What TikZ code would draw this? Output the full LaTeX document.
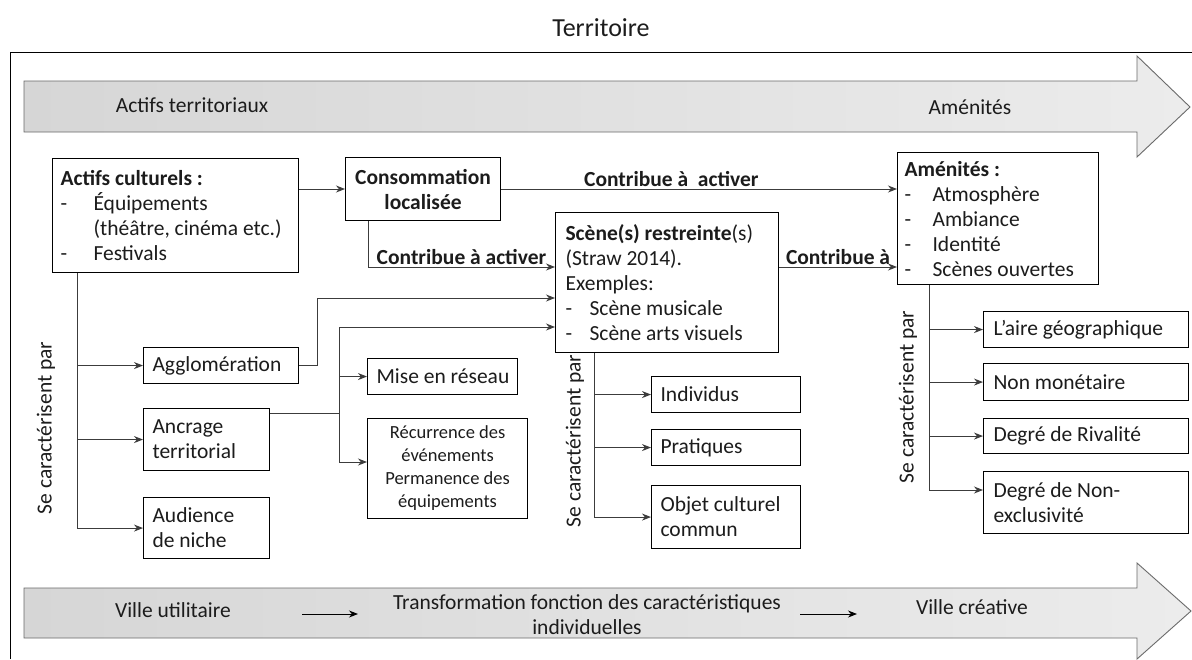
\documentclass[tikz,border=0pt]{standalone}
\usepackage{fontspec}
\setmainfont{Carlito}
\usetikzlibrary{arrows.meta}
\definecolor{txt}{HTML}{1C1C1C}
\definecolor{ln}{HTML}{3C3C3C}
\definecolor{arrL}{HTML}{D6D6D6}
\definecolor{arrR}{HTML}{ECECEC}
\definecolor{arrD}{HTML}{6A6A6A}
\newcommand\dsh[1]{\makebox[#1][l]{-}}
\begin{document}
\begin{tikzpicture}[x=1pt,y=-1pt,
  every node/.style={font=\fontsize{21.5}{25}\selectfont, text=txt},
  box/.style={draw=black, line width=1.1pt, anchor=north west, inner ysep=0pt, inner xsep=9pt, align=flush left},
  cbox/.style={box, align=flush center},
  lbl/.style={font=\fontsize{21.5}{25}\selectfont\bfseries, inner sep=2pt},
  ln/.style={draw=ln, line width=1pt},
  conn/.style={ln, -{Stealth[length=9pt,width=7pt]}},
  sarr/.style={draw=black, line width=1pt, -{Stealth[length=9pt,width=7pt]}},
  bigarrow/.style={draw=arrD, line width=0.9pt, left color=arrL, right color=arrR},
  rot/.style={rotate=90, inner sep=0pt}
]
\useasboundingbox (0,0) rectangle (1192,659);
\fill[white] (0,0) rectangle (1192,659);

% title and frame
\node[font=\fontsize{26}{30}\selectfont] (title) at (601,28) {Territoire};
\draw[line width=1pt] (10,659) -- (10,52) -- (1192,52);

% big arrows
\path[bigarrow] (24,81) -- (1137,81) -- (1137,56) -- (1190,107) -- (1137,157) -- (1137,132) -- (24,132) -- cycle;
\node (at) at (192,105) {Actifs territoriaux};
\node (am) at (970,107) {Aménités};

\path[bigarrow] (24,588) -- (1137,588) -- (1137,563) -- (1191,611) -- (1137,659) -- (1137,638) -- (24,638) -- cycle;
\node (vu) at (173,610) {Ville utilitaire};
\node[align=center] (tf) at (587,615) {Transformation fonction des caractéristiques\\individuelles};
\node (vc) at (972,607) {Ville créative};
\coordinate (s1a) at (302,614); \coordinate (s1b) at (358,614);
\coordinate (s2a) at (800,614); \coordinate (s2b) at (857,614);
\draw[sarr] (s1a) -- (s1b);
\draw[sarr] (s2a) -- (s2b);

% boxes
\node[box, minimum width=246pt, minimum height=114pt, text width=230pt, inner xsep=8pt] (act) at (52,158)
  {\textbf{Actifs culturels :}\\ \dsh{33pt}Équipements\\ \hspace*{33pt}(théâtre, cinéma etc.)\\ \dsh{33pt}Festivals};
\node[cbox, minimum width=155pt, minimum height=63pt, text width=145pt, inner xsep=5pt, font=\fontsize{21.5}{25}\selectfont\bfseries] (cons) at (345,157)
  {Consommation\\localisée};
\node[box, minimum width=223pt, minimum height=140pt, text width=203pt, inner xsep=10pt] (scene) at (555,212)
  {\textbf{Scène(s) restreinte}(s)\\ (Straw 2014).\\ Exemples:\\ \dsh{24pt}Scène musicale\\ \dsh{24pt}Scène arts visuels};
\node[box, minimum width=201pt, minimum height=132pt, text width=187pt, inner xsep=7pt] (amen) at (897,152)
  {\textbf{Aménités :}\\ \dsh{28pt}Atmosphère\\ \dsh{28pt}Ambiance\\ \dsh{28pt}Identité\\ \dsh{28pt}Scènes ouvertes};

\node[box, minimum width=155pt, minimum height=36pt, text width=137pt] (agg) at (143,347) {Agglomération};
\node[box, minimum width=126pt, minimum height=62pt, text width=108pt] (anc) at (143,408) {Ancrage\\territorial};
\node[box, minimum width=126pt, minimum height=61pt, text width=108pt] (aud) at (143,497) {Audience\\de niche};

\node[box, minimum width=150pt, minimum height=36pt, text width=138pt, inner xsep=6pt] (mise) at (367,358) {\hspace*{3pt}Mise en réseau};
\node[cbox, minimum width=160pt, minimum height=100pt, text width=150pt, inner xsep=5pt, font=\fontsize{18.5}{23}\selectfont] (rec) at (367,418)
  {Récurrence des\\événements\\Permanence des\\équipements};

\node[box, minimum width=149pt, minimum height=36pt, text width=131pt] (ind) at (651,376) {Individus};
\node[box, minimum width=149pt, minimum height=36pt, text width=131pt] (pra) at (651,429) {Pratiques};
\node[box, minimum width=149pt, minimum height=63pt, text width=131pt] (obj) at (651,485) {Objet culturel\\commun};

\node[box, minimum width=205pt, minimum height=36pt, text width=185pt, inner xsep=10pt] (aire) at (983,311) {L’aire géographique};
\node[box, minimum width=205pt, minimum height=37pt, text width=185pt, inner xsep=10pt] (nmon) at (983,363) {Non monétaire};
\node[box, minimum width=205pt, minimum height=35pt, text width=185pt, inner xsep=10pt] (riv) at (983,418) {Degré de Rivalité};
\node[box, minimum width=205pt, minimum height=62pt, text width=185pt, inner xsep=10pt] (nex) at (983,471) {Degré de Non-\\exclusivité};

% rotated labels
\node[rot] (sc1) at (46,428) {Se caractérisent par};
\node[rot] (sc2) at (575,441) {Se caractérisent par};
\node[rot] (sc3) at (908,397) {Se caractérisent par};

% connectors
\draw[conn] (act.east |- 0,189) -- (cons.west |- 0,189);
\draw[conn] (cons.east |- 0,189) -- node[lbl, above, pos=0.43] {Contribue à\ \ activer} (amen.west |- 0,189);
\draw[conn] (cons.south -| 368,0) -- (368,267) -- node[lbl, above, pos=0.5] {Contribue à activer} (scene.west |- 0,267);
\draw[conn] (scene.east |- 0,267) -- node[lbl, above] {Contribue à} (amen.west |- 0,267);

\draw[ln] (act.south -| 77,0) -- (77,0 |- aud.west);
\draw[conn] (77,0 |- agg.west) -- (agg.west);
\draw[conn] (77,0 |- anc.west) -- (anc.west);
\draw[conn] (77,0 |- aud.west) -- (aud.west);

\draw[conn] (agg.east) -- (317,0 |- agg.east) -- (317,298) -- (scene.west |- 0,298);

\draw[ln] (anc.east |- 0,413) -- (339,413);
\draw[ln] (339,327) -- (339,462);
\draw[conn] (339,327) -- (scene.west |- 0,327);
\draw[conn] (339,0 |- mise.west) -- (mise.west);
\draw[conn] (339,462) -- (rec.west |- 0,462);

\draw[ln] (scene.south -| 594,0) -- (594,0 |- obj.west);
\draw[conn] (594,0 |- ind.west) -- (ind.west);
\draw[conn] (594,0 |- pra.west) -- (pra.west);
\draw[conn] (594,0 |- obj.west) -- (obj.west);

\draw[ln] (amen.south -| 929,0) -- (929,490);
\draw[conn] (929,0 |- aire.west) -- (aire.west);
\draw[conn] (929,0 |- nmon.west) -- (nmon.west);
\draw[conn] (929,0 |- riv.west) -- (riv.west);
\draw[conn] (929,490) -- (nex.west |- 0,490);
\end{tikzpicture}
\end{document}
